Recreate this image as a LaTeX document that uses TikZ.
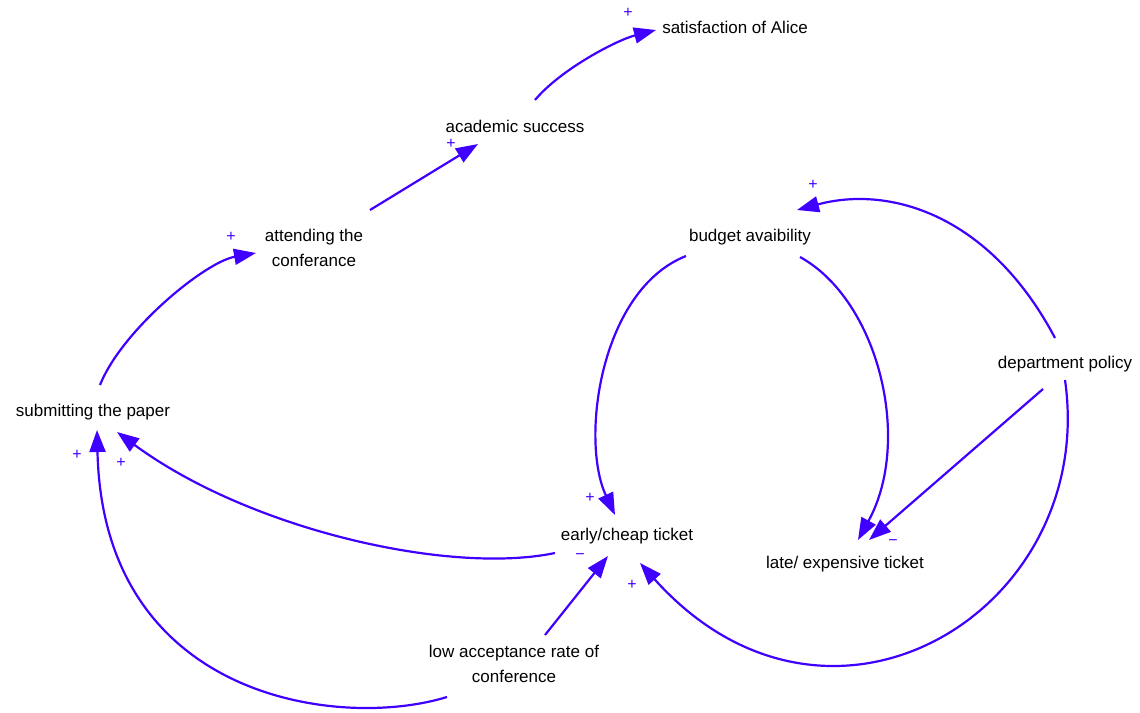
\documentclass[tikz,border=0pt]{standalone}
\usepackage{fontspec}
\setmainfont{Liberation Sans}
\usetikzlibrary{arrows.meta}
\definecolor{linkblue}{RGB}{64,0,255}
\begin{document}
\begin{tikzpicture}[x=1pt,y=-1pt,
  var/.style={font=\fontsize{17}{25}\selectfont, align=center, inner sep=0pt, text=black},
  link/.style={draw=linkblue, line width=2.2pt, -{Triangle[length=22pt,width=16pt]}},
  polarity/.style={font=\fontsize{16}{16}\selectfont, text=linkblue, inner sep=0pt}]
\useasboundingbox (0,0) rectangle (1140,712);

% variables
\node[var] (sat)    at (735,27)  {satisfaction of Alice};
\node[var] (acad)   at (515,126) {academic success};
\node[var] (attend) at (314,248) {attending the\\conferance};
\node[var] (budget) at (750,237) {budget avaibility};
\node[var] (dept)   at (1065,364) {department policy};
\node[var] (submit) at (93,412)  {submitting the paper};
\node[var] (early)  at (627,536) {early/cheap ticket};
\node[var] (late)   at (845,564) {late/ expensive ticket};
\node[var] (low)    at (514,664) {low acceptance rate of\\conference};

% causal links
\draw[link] ([shift={(20,-26)}]acad.center) .. controls (561,69) and (617,40) .. ([shift={(-79,3)}]sat.center);
\draw[link] ([shift={(56,-38)}]attend.center) -- ([shift={(-37,18)}]acad.center);
\draw[link] ([shift={(7,-27)}]submit.center) .. controls (122,330) and (205,262) .. ([shift={(-58,5)}]attend.center);
\draw[link] ([shift={(-72,17)}]early.center) .. controls (450,575) and (250,530) .. ([shift={(24,20)}]submit.center);
\draw[link] ([shift={(-67,33)}]low.center) .. controls (340,730) and (103,700) .. ([shift={(4,18)}]submit.center);
\draw[link] ([shift={(31,-29)}]low.center) -- ([shift={(-19,20)}]early.center);
\draw[link] ([shift={(-64,19)}]budget.center) .. controls (600,290) and (580,440) .. ([shift={(-12,-21)}]early.center);
\draw[link] ([shift={(-10,-26)}]dept.center) .. controls (990,215) and (890,185) .. ([shift={(47,-27)}]budget.center);
\draw[link] ([shift={(50,20)}]budget.center) .. controls (878,300) and (913,440) .. ([shift={(13,-24)}]late.center);
\draw[link] ([shift={(-22,25)}]dept.center) -- ([shift={(24,-24)}]late.center);
\draw[link] ([shift={(0,16)}]dept.center) .. controls (1098,610) and (830,775) .. ([shift={(13,27)}]early.center);

% link polarities
\node[polarity] (p1)  at (628,13)  {+};
\node[polarity] (p2)  at (451,144) {+};
\node[polarity] (p3)  at (231,237) {+};
\node[polarity] (p4)  at (813,185) {+};
\node[polarity] (p5)  at (77,455)  {+};
\node[polarity] (p6)  at (121,463) {+};
\node[polarity] (p7)  at (590,498) {+};
\node[polarity] (p8)  at (580,557) {−};
\node[polarity] (p9)  at (632,585) {+};
\node[polarity] (p10) at (893,543) {−};
\end{tikzpicture}
\end{document}
